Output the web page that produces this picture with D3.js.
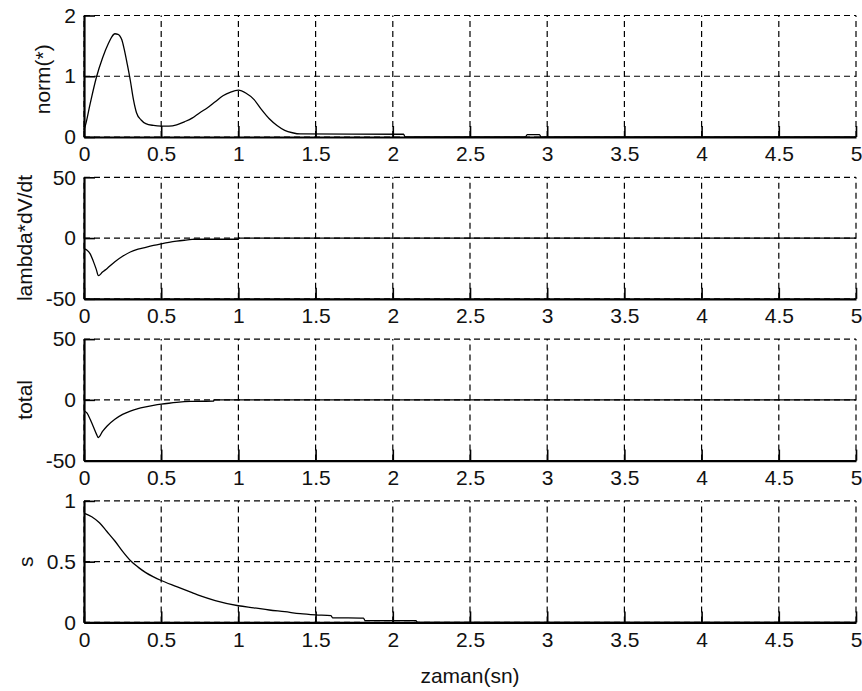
<!DOCTYPE html>
<html>
<head>
<meta charset="utf-8">
<script src="https://cdn.jsdelivr.net/npm/d3@7"></script>
<style>
  html, body { margin: 0; padding: 0; background: #fff; }
  svg { display: block; }
  text { font-family: "Liberation Sans", Arial, sans-serif; fill: #111; }
</style>
</head>
<body>
<svg id="fig" width="862" height="691"></svg>
<script>
// Time axis shared by all four panels
const xTicks = [0, 0.5, 1, 1.5, 2, 2.5, 3, 3.5, 4, 4.5, 5];
const xLabel = "zaman(sn)";

// Panel 1: norm(*)
const normT = [0, 0.01, 0.04, 0.08, 0.12, 0.16, 0.18, 0.2, 0.22, 0.245, 0.26, 0.28, 0.3, 0.32, 0.34, 0.37, 0.4, 0.45, 0.5, 0.55, 0.6, 0.65, 0.7, 0.75, 0.8, 0.85, 0.9, 0.95, 1.0, 1.05, 1.1, 1.15, 1.2, 1.25, 1.3, 1.35, 1.4, 2.07, 2.08, 2.86, 2.87, 2.95, 2.96, 5];
const normV = [0.12, 0.2, 0.55, 0.98, 1.3, 1.55, 1.65, 1.70, 1.69, 1.6, 1.45, 1.2, 0.93, 0.62, 0.4, 0.28, 0.22, 0.19, 0.18, 0.18, 0.2, 0.25, 0.31, 0.4, 0.48, 0.58, 0.68, 0.74, 0.77, 0.72, 0.62, 0.45, 0.3, 0.19, 0.11, 0.07, 0.05, 0.045, 0, 0, 0.04, 0.04, 0, 0];
const normTicks = [0, 1, 2];

// Panel 2: lambda*dV/dt
const lamT = [0, 0.02, 0.04, 0.06, 0.08, 0.093, 0.12, 0.15, 0.2, 0.25, 0.3, 0.35, 0.4, 0.45, 0.5, 0.55, 0.6, 0.65, 0.7, 0.71, 1.0, 1.001, 5];
const lamV = [-9, -10, -13, -19, -26, -31, -28, -25, -19.5, -15, -11.5, -9.2, -7.6, -6.1, -4.8, -3.6, -2.6, -1.8, -1.1, -1, -1, 0, 0];
const lamTicks = [-50, 0, 50];

// Panel 3: total
const totT = [0, 0.02, 0.04, 0.06, 0.08, 0.093, 0.12, 0.15, 0.2, 0.25, 0.3, 0.35, 0.4, 0.45, 0.5, 0.55, 0.6, 0.69, 0.84, 0.841, 5];
const totV = [-9, -11, -16, -22, -28, -31, -26, -21.5, -16, -12, -9.2, -7.2, -5.8, -4.6, -3.6, -2.8, -2.1, -1.3, -1, 0, 0];
const totTicks = [-50, 0, 50];

// Panel 4: s
const sT = [0, 0.05, 0.1, 0.147, 0.2, 0.25, 0.3, 0.35, 0.4, 0.45, 0.5, 0.6, 0.7, 0.75, 0.85, 1.0, 1.1, 1.2, 1.3, 1.4, 1.5, 1.6, 1.61, 1.81, 1.82, 2.15, 2.16, 5];
const sV = [0.9, 0.87, 0.82, 0.75, 0.67, 0.585, 0.51, 0.455, 0.41, 0.375, 0.345, 0.295, 0.245, 0.22, 0.18, 0.137, 0.12, 0.102, 0.088, 0.072, 0.062, 0.055, 0.038, 0.035, 0.015, 0.015, 0, 0];
const sTicks = [0, 0.5, 1];

const panels = [
  { label: "norm(*)",      t: normT, v: normV, ticks: normTicks, domain: [0, 2] },
  { label: "lambda*dV/dt", t: lamT,  v: lamV,  ticks: lamTicks,  domain: [-50, 50] },
  { label: "total",        t: totT,  v: totV,  ticks: totTicks,  domain: [-50, 50] },
  { label: "s",            t: sT,    v: sV,    ticks: sTicks,    domain: [0, 1] }
];

const svg = d3.select("#fig");
const left = 84, right = 856;
const top0 = 15.5, step = 161.8, ph = 121.5;
const fontTick = 21, fontLabel = 21;

const x = d3.scaleLinear().domain([0, 5]).range([left, right]);
const fmt = d => String(d);

panels.forEach((p, i) => {
  const top = top0 + i * step, bottom = top + ph;
  const y = d3.scaleLinear().domain(p.domain).range([bottom, top]);
  const g = svg.append("g");

  // dashed grid
  const grid = g.append("g").attr("stroke", "#000").attr("stroke-width", 1.2)
    .attr("stroke-dasharray", "6,4").attr("fill", "none");
  grid.selectAll("line.v").data(xTicks).join("line").attr("class", "v")
    .attr("x1", d => x(d)).attr("x2", d => x(d))
    .attr("y1", bottom).attr("y2", top);
  grid.selectAll("line.h").data(p.ticks).join("line").attr("class", "h")
    .attr("x1", left).attr("x2", right)
    .attr("y1", d => y(d)).attr("y2", d => y(d));

  // data curve
  const pts = p.t.map((t, k) => [t, p.v[k]]);
  g.append("path").datum(pts)
    .attr("fill", "none").attr("stroke", "#000").attr("stroke-width", 1.3)
    .attr("stroke-linejoin", "round")
    .attr("d", d3.line().curve(d3.curveMonotoneX).x(d => x(d[0])).y(d => y(d[1])));

  // bottom axis with inward ticks
  const xa = g.append("g").attr("transform", `translate(0,${bottom})`)
    .call(d3.axisBottom(x).tickValues(xTicks).tickFormat(fmt).tickSizeInner(-11).tickSizeOuter(0).tickPadding(9));
  xa.select(".domain").attr("stroke-width", 2.2);
  xa.selectAll(".tick line").attr("stroke-width", 1.6);
  xa.selectAll(".tick text").attr("font-size", fontTick).attr("dy", "0.72em")
    .attr("font-family", "Liberation Sans, Arial, sans-serif");

  // left axis with inward ticks
  const ya = g.append("g").attr("transform", `translate(${left},0)`)
    .call(d3.axisLeft(y).tickValues(p.ticks).tickFormat(fmt).tickSizeInner(-11).tickSizeOuter(0).tickPadding(8));
  ya.select(".domain").attr("stroke-width", 2.2);
  ya.selectAll(".tick line").attr("stroke-width", 1.6);
  ya.selectAll(".tick text").attr("font-size", fontTick)
    .attr("font-family", "Liberation Sans, Arial, sans-serif");

  // y label, placed left of the widest tick label
  const maxW = d3.max(ya.selectAll(".tick text").nodes(), n => n.getComputedTextLength());
  const lx = left - 8 - maxW - 14;
  g.append("text")
    .attr("transform", `translate(${lx},${(top + bottom) / 2 + (i === 0 ? 3 : 0)}) rotate(-90)`)
    .attr("text-anchor", "middle").attr("dy", "0")
    .attr("font-size", fontLabel).text(p.label);
});

// x label under the last panel
svg.append("text")
  .attr("x", (left + right) / 2).attr("y", top0 + 3 * step + ph + 61)
  .attr("text-anchor", "middle").attr("font-size", fontLabel).text(xLabel);
</script>
</body>
</html>
